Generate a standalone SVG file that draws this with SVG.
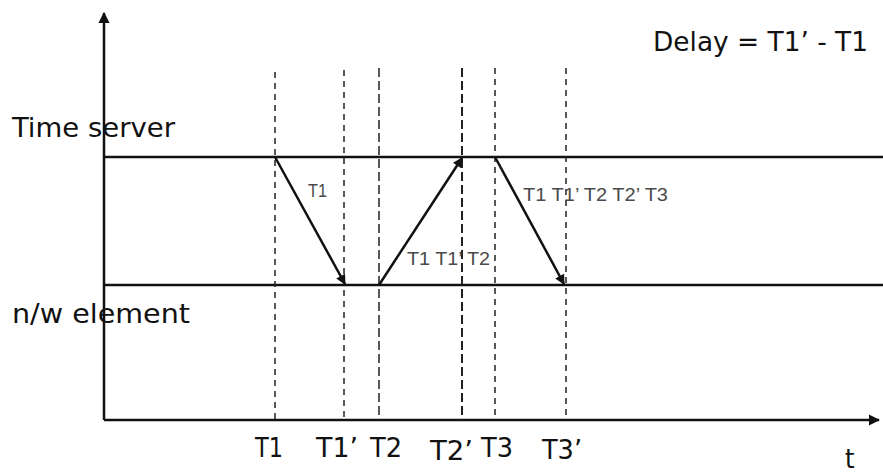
<svg xmlns="http://www.w3.org/2000/svg" width="883" height="475" viewBox="0 0 883 475">
<style>
.ax{stroke:#111;stroke-width:2.5;fill:none}
.ln{stroke:#111;stroke-width:2.5;fill:none}
.ds{stroke:#222;stroke-width:1.5;stroke-dasharray:6,5;fill:none}
.ar{stroke:#111;stroke-width:2.5;fill:none;marker-end:url(#ah)}
.big{font-family:"DejaVu Sans Condensed","DejaVu Sans","Liberation Sans",sans-serif;font-size:27px;fill:#111}
.sm{font-family:"Liberation Sans",Arial,sans-serif;font-size:18px;fill:#4a4a4a}
</style>
<defs>
<marker id="ah" viewBox="0 0 10 10" refX="9" refY="5" markerWidth="4.5" markerHeight="4" orient="auto" markerUnits="strokeWidth">
<path d="M0,0 L10,5 L0,10 z" fill="#111"/>
</marker>
<marker id="axh" viewBox="0 0 10 10" refX="9" refY="5" markerWidth="4.5" markerHeight="4.5" orient="auto" markerUnits="strokeWidth">
<path d="M0,0 L10,5 L0,10 z" fill="#111"/>
</marker>
</defs>
<g id="time-server">
<text class="big" x="12" y="137" textLength="163" lengthAdjust="spacingAndGlyphs">Time server</text>
<line class="ln" x1="104" y1="157" x2="883" y2="157"/>
</g>
<g id="nw-element">
<text class="big" x="12" y="323" textLength="178" lengthAdjust="spacingAndGlyphs">n/w element</text>
<line class="ln" x1="104" y1="285" x2="883" y2="285"/>
</g>
<g id="axes">
<line class="ax" x1="104" y1="420" x2="104" y2="13" marker-end="url(#axh)"/>
<line class="ax" x1="104" y1="420" x2="879" y2="420" marker-end="url(#axh)"/>
</g>
<g id="delay">
<text class="big" x="653" y="51" textLength="215" lengthAdjust="spacingAndGlyphs">Delay = T1’ - T1</text>
</g>
<g id="guides">
<line class="ds" x1="275" y1="72" x2="275" y2="420"/>
<line class="ds" x1="344" y1="70" x2="344" y2="420"/>
<line class="ds" x1="379" y1="68" x2="379" y2="420" style="stroke-dasharray:9,4"/>
<line class="ds" x1="462" y1="68" x2="462" y2="420" style="stroke-dasharray:9,4;stroke-width:2"/>
<line class="ds" x1="495" y1="68" x2="495" y2="420"/>
<line class="ds" x1="566" y1="68" x2="566" y2="420"/>
</g>
<g id="connectors">
<line class="ar" x1="275" y1="157" x2="345" y2="284"/>
<line class="ar" x1="379" y1="285" x2="462" y2="158"/>
<line class="ar" x1="495" y1="157" x2="564" y2="284"/>
</g>
<g id="labels">
<text class="sm" x="308" y="197" textLength="19" lengthAdjust="spacingAndGlyphs">T1</text>
<text class="sm" x="407" y="265" textLength="83" lengthAdjust="spacingAndGlyphs">T1 T1’ T2</text>
<text class="sm" x="523" y="201" textLength="145" lengthAdjust="spacingAndGlyphs">T1 T1’ T2 T2’ T3</text>
</g>
<g id="ticks">
<text class="big" x="255" y="457" textLength="28" lengthAdjust="spacingAndGlyphs">T1</text>
<text class="big" x="316" y="457" textLength="42" lengthAdjust="spacingAndGlyphs">T1’</text>
<text class="big" x="370" y="457" textLength="32" lengthAdjust="spacingAndGlyphs">T2</text>
<text class="big" x="430" y="460" textLength="43" lengthAdjust="spacingAndGlyphs">T2’</text>
<text class="big" x="481" y="457" textLength="32" lengthAdjust="spacingAndGlyphs">T3</text>
<text class="big" x="542" y="459" textLength="40" lengthAdjust="spacingAndGlyphs">T3’</text>
<text class="big" x="845" y="468">t</text>
</g>
</svg>
